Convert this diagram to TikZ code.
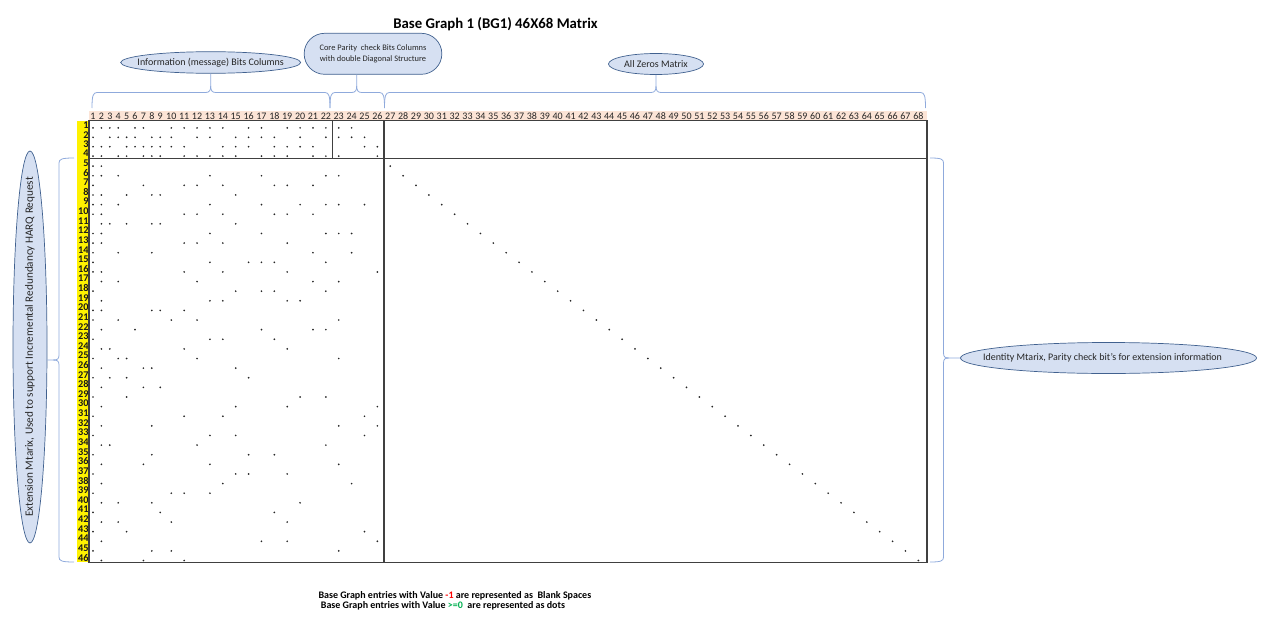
\documentclass[tikz,border=0pt]{standalone}
\usepackage{fontspec}
\setmainfont{Carlito}
\usetikzlibrary{shapes.geometric,shapes.misc,calc}
\definecolor{braceblue}{HTML}{8FAADC}
\definecolor{ellfill}{HTML}{D6E0F2}
\definecolor{elldraw}{HTML}{41618F}
\definecolor{hdrfill}{HTML}{FCE4D6}
\definecolor{gridline}{HTML}{404040}
\definecolor{txt}{HTML}{262626}
\definecolor{okgreen}{HTML}{00B050}
\begin{document}
\begin{tikzpicture}[x=1pt,y=-1pt,
  bubble/.style={ellipse, draw=elldraw, fill=ellfill, line width=0.7pt, inner sep=0pt},
  bubbletext/.style={text=txt, inner sep=0pt, font=\fontsize{10}{11}\selectfont},
  stadium/.style={rounded rectangle, draw=elldraw, fill=ellfill, line width=0.7pt, text=txt, inner sep=0pt, align=center},
  bracepath/.style={draw=braceblue, line width=0.8pt, line join=round},
  colnum/.style={font=\fontsize{10}{10}\selectfont, text=black!85, inner sep=0pt},
  rownum/.style={font=\fontsize{10.3}{10}\selectfont\bfseries, text=black!90, inner sep=0pt, anchor=east},
  bgdot/.style={fill=black!85},
  frame/.style={draw=gridline, line width=1.2pt},
  note/.style={anchor=west, font=\fontsize{10}{10}\selectfont\bfseries, inner sep=0pt}
]
\useasboundingbox (0,0) rectangle (1265,626);

% title
\node[font=\fontsize{14.8}{16}\selectfont\bfseries, inner sep=0pt] (title) at (495.5,24) {Base Graph 1 (BG1) 46X68 Matrix};

% header band and yellow row-label column
\fill[hdrfill] (89,111.3) rectangle (927,120.7);
\fill[yellow] (77,120.7) rectangle (89,562.3);

% column numbers
\foreach \cc in {1,...,68} {
  \pgfmathsetmacro\xx{(\cc<10)*(93+(\cc-1)*8.4)+(\cc>9)*(171.3+(\cc-10)*12.88)}
  \node[colnum] (h\cc) at (\xx,116.2) {\cc};
}
% row numbers
\foreach \rr in {1,...,46} {
  \pgfmathsetmacro\yy{(\rr<5)*(120.7+(\rr-0.5)*9.4)+(\rr>4)*(158.3+(\rr-4.5)*9.62)}
  \node[rownum] (r\rr) at (88.8,\yy) {\rr};
}

% dots (entries >= 0), 0-indexed column numbers
\foreach \rr/\cs in {
1/{0,1,2,3,5,6,9,10,11,12,13,15,16,18,19,20,21,22,23},
2/{0,2,3,4,5,7,8,9,11,12,14,15,16,17,19,21,22,23,24},
3/{0,1,2,4,5,6,7,8,9,10,13,14,15,17,18,19,20,24,25},
4/{0,1,3,4,6,7,8,10,11,12,13,14,16,17,18,20,21,22,25},
5/{0,1,26},
6/{0,1,3,12,16,21,22,27},
7/{0,6,10,11,13,17,18,20,28},
8/{0,1,4,7,8,14,29},
9/{0,1,3,12,16,19,21,22,24,30},
10/{0,1,10,11,13,17,18,20,31},
11/{1,2,4,7,8,14,32},
12/{0,1,12,16,21,22,23,33},
13/{0,1,10,11,13,18,34},
14/{0,3,7,20,23,35},
15/{0,12,15,16,17,21,36},
16/{0,1,10,13,18,25,37},
17/{1,3,11,20,22,38},
18/{0,14,16,17,21,39},
19/{1,12,13,18,19,40},
20/{0,1,7,8,10,41},
21/{0,3,9,11,22,42},
22/{1,5,16,20,21,43},
23/{0,12,13,17,44},
24/{1,2,10,18,45},
25/{0,3,4,11,22,46},
26/{1,6,7,14,47},
27/{0,2,4,15,48},
28/{1,6,8,49},
29/{0,4,19,21,50},
30/{1,14,18,25,51},
31/{0,10,13,24,52},
32/{1,7,22,25,53},
33/{0,12,14,24,54},
34/{1,2,11,21,55},
35/{0,7,15,17,56},
36/{1,6,12,22,57},
37/{0,14,15,18,58},
38/{1,13,23,59},
39/{0,9,10,12,60},
40/{1,3,7,19,61},
41/{0,8,17,62},
42/{1,3,9,18,63},
43/{0,4,24,64},
44/{1,16,18,25,65},
45/{0,7,9,22,66},
46/{1,6,10,67}} {
  \foreach \cc in \cs {
    \pgfmathsetmacro\xx{(\cc<9)*(93+\cc*8.4)+(\cc>8)*(171.3+(\cc-9)*12.88)}
    \pgfmathsetmacro\yy{(\rr<5)*(120.7+\rr*9.4-2.2)+(\rr>4)*(158.3+(\rr-4)*9.62-1.8)}
    \fill[bgdot] (\xx,\yy) circle (0.95);
  }
}

% matrix frame and partitions
\draw[frame] (89,120.7) rectangle (927,562.3);
\draw[frame] (89,158.3) -- (927,158.3);
\draw[frame] (332.3,120.7) -- (332.3,158.3);
\draw[frame] (384,120.7) -- (384,562.3);

% callouts
\node[bubble, minimum width=180, minimum height=21.6] (info) at (210.7,62.5) {};
\node[bubbletext] (infolabel) at (info.center) {Information (message) Bits Columns};
\node[stadium, minimum width=137.7, minimum height=41, font=\fontsize{8.4}{10.7}\selectfont] (core) at (373,53.8) {Core Parity\ \ check Bits Columns\\with double Diagonal Structure};
\node[bubble, minimum width=95, minimum height=21] (zeros) at (656,64) {};
\node[bubbletext] (zeroslabel) at (zeros.center) {All Zeros Matrix};
\node[bubble, minimum width=296, minimum height=31] (ident) at (1108.5,358) {};
\node[bubbletext] (identlabel) at ($(ident.center)+(-6,0)$) {Identity Mtarix, Parity check bit's for extension information};
\node[bubble, rotate=90, minimum width=392, minimum height=34] (ext) at (30,347) {};
\node[bubbletext, rotate=90, font=\fontsize{11.2}{12}\selectfont] (extlabel) at (ext.center) {Extension Mtarix, Used to support Incremental Redundancy HARQ Request};

\coordinate (tipb) at (356.7,90);
\coordinate (ltip) at (0,360);

% top braces
\draw[bracepath] (92,108) .. controls (92,96) and (93,92.5) .. (97,92.5) -- (205.7,92.5) .. controls (209.7,92.5) and (210.7,90) .. (210.7,86) -- (info.south);
\draw[bracepath] (210.7,86) .. controls (210.7,90) and (211.7,92.5) .. (215.7,92.5) -- (325,92.5) .. controls (329,92.5) and (330,96) .. (330,108);

\draw[bracepath] (330,108) .. controls (330,96) and (331,92.5) .. (335,92.5) -- (351.7,92.5) .. controls (355.7,92.5) and (356.7,90) .. (356.7,86) -- (core.south -| tipb);
\draw[bracepath] (356.7,86) .. controls (356.7,90) and (357.7,92.5) .. (361.7,92.5) -- (379.5,92.5) .. controls (383.5,92.5) and (384.5,96) .. (384.5,108);

\draw[bracepath] (384.5,108) .. controls (384.5,96) and (385.5,92.5) .. (389.5,92.5) -- (651,92.5) .. controls (655,92.5) and (656,90) .. (656,86) -- (zeros.south);
\draw[bracepath] (656,86) .. controls (656,90) and (657,92.5) .. (661,92.5) -- (920.5,92.5) .. controls (924.5,92.5) and (925.5,96) .. (925.5,108);

% left brace
\draw[bracepath] (74,158) .. controls (62,158) and (59,159) .. (59,163) -- (59,355) .. controls (59,359) and (57.5,360) .. (53,360) -- (ext.south |- ltip);
\draw[bracepath] (53,360) .. controls (57.5,360) and (59,361) .. (59,365) -- (59,557) .. controls (59,561) and (62,562) .. (74,562);

% right brace
\draw[bracepath] (930,158) .. controls (941,158) and (943.5,159) .. (943.5,163) -- (943.5,353) .. controls (943.5,357) and (945,358) .. (949,358) -- (ident.west);
\draw[bracepath] (949,358) .. controls (945,358) and (943.5,359) .. (943.5,363) -- (943.5,557) .. controls (943.5,561) and (941,562) .. (930,562);

% legend notes
\node[note] (note1) at (318.3,596) {Base Graph entries with Value \textcolor{red}{-1} are represented as\ \ Blank Spaces};
\node[note] (note2) at (320.7,606) {Base Graph entries with Value \textcolor{okgreen}{>=0}\ \ are represented as dots};
\end{tikzpicture}
\end{document}
